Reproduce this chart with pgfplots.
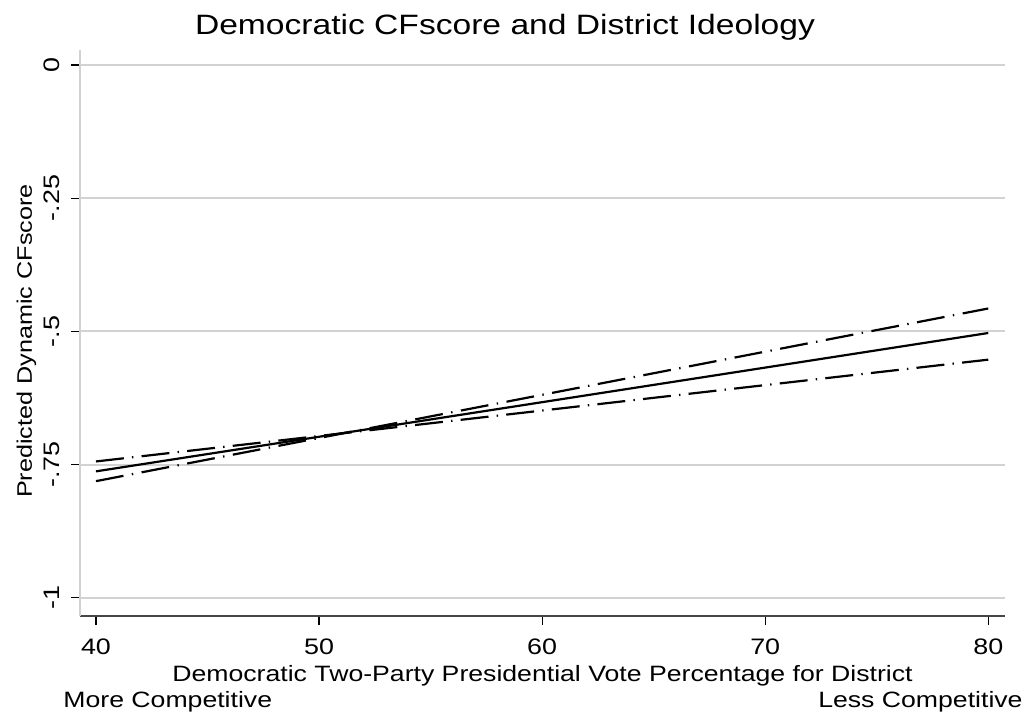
\documentclass[border=0pt]{standalone}
\usepackage{fontspec}
\setmainfont[FakeStretch=1.2]{Liberation Sans}
\usepackage{pgfplots}
\pgfplotsset{compat=1.18}

\definecolor{gridgray}{RGB}{210,210,210}
\definecolor{axisdark}{RGB}{70,70,70}

\begin{document}
\begin{tikzpicture}
\useasboundingbox (-40pt,-51pt) rectangle (476.5pt,308pt);
\begin{axis}[
  at={(0,0)}, anchor=south west,
  scale only axis,
  width=462.5pt, height=283pt,
  xmin=39.284, xmax=80.75,
  ymin=-1.034, ymax=0.028,
  axis x line=bottom, axis y line=left,
  axis line style={-},
  x axis line style={draw=axisdark, line width=0.9pt},
  y axis line style={draw=gridgray, line width=0.9pt},
  xtick={40,50,60,70,80},
  xticklabels={40,50,60,70,80},
  ytick={-1,-0.75,-0.5,-0.25,0},
  yticklabels={-1,-.75,-.5,-.25,0},
  tick align=outside,
  major tick length=4.5pt,
  tick style={draw=black, line width=0.6pt},
  ymajorgrids,
  grid style={draw=gridgray, line width=1pt},
  every tick label/.append style={font=\fontsize{11.2}{13}\selectfont},
  xticklabel style={anchor=base, yshift=-14.5pt},
  yticklabel style={rotate=90, anchor=base, yshift=5.5pt},
  clip=false,
]
% fitted line and confidence bounds
\addplot[black, line width=1.1pt] coordinates {(40,-0.7626) (80,-0.503)};
\addplot[black, line width=1.1pt, dash pattern=on 14pt off 4.12pt on 0.7pt off 4.12pt]
  coordinates {(40,-0.744) (80,-0.553)};
\addplot[black, line width=1.1pt, dash pattern=on 14pt off 4.26pt on 0.7pt off 4.27pt]
  coordinates {(40,-0.781) (80,-0.457)};
\end{axis}
% titles and notes
\node[anchor=base, font=\fontsize{14}{16}\selectfont] at (212.5pt,290.5pt)
  {Democratic CFscore and District Ideology};
\node[anchor=base, font=\fontsize{11.1}{13}\selectfont] at (231.25pt,-32.8pt)
  {Democratic Two-Party Presidential Vote Percentage for District};
\node[anchor=base west, font=\fontsize{11.1}{13}\selectfont, inner sep=0pt] at (-8.5pt,-45.5pt)
  {More Competitive};
\node[anchor=base east, font=\fontsize{11.1}{13}\selectfont, inner sep=0pt] at (471.5pt,-45.5pt)
  {Less Competitive};
\node[anchor=base, rotate=90, font=\fontsize{10.5}{12}\selectfont] at (-24pt,137.5pt)
  {Predicted Dynamic CFscore};
\end{tikzpicture}
\end{document}
